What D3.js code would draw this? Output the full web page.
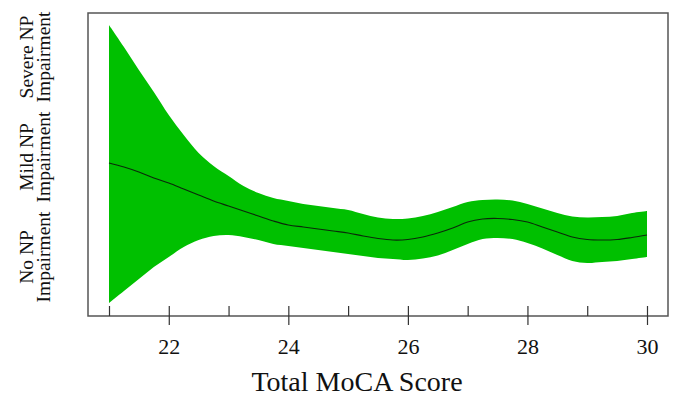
<!DOCTYPE html>
<html>
<head>
<meta charset="utf-8">
<script src="https://cdn.jsdelivr.net/npm/d3@7"></script>
<style>
  body { margin: 0; background: #fff; }
  svg text { font-family: "Liberation Serif", "Times New Roman", serif; fill: #111; }
</style>
</head>
<body>
<div id="chart"></div>
<script>
//---------------- data ----------------
var moca = [21, 21.25, 21.5, 21.75, 22, 22.25, 22.5, 22.75, 23, 23.25, 23.5, 23.75,
  24, 24.25, 24.5, 24.75, 25, 25.25, 25.5, 25.75, 26, 26.25, 26.5, 26.75,
  27, 27.25, 27.5, 27.75, 28, 28.25, 28.5, 28.75, 29, 29.25, 29.5, 29.75, 30];
var fitMean = [1.94, 1.90, 1.85, 1.79, 1.74, 1.68, 1.62, 1.56, 1.51, 1.46, 1.41, 1.36,
  1.32, 1.30, 1.28, 1.26, 1.24, 1.21, 1.185, 1.17, 1.175, 1.20, 1.24, 1.29,
  1.35, 1.38, 1.385, 1.375, 1.35, 1.30, 1.25, 1.20, 1.175, 1.17, 1.175, 1.195, 1.22];
var fitUpper = [3.32, 3.10, 2.87, 2.65, 2.42, 2.22, 2.04, 1.91, 1.81, 1.71, 1.64, 1.59,
  1.56, 1.53, 1.51, 1.49, 1.47, 1.43, 1.395, 1.38, 1.385, 1.41, 1.45, 1.50,
  1.55, 1.57, 1.575, 1.565, 1.53, 1.485, 1.44, 1.405, 1.395, 1.40, 1.41, 1.44, 1.46];
var fitLower = [0.54, 0.66, 0.78, 0.90, 1.00, 1.10, 1.17, 1.21, 1.22, 1.20, 1.17, 1.13,
  1.11, 1.09, 1.07, 1.05, 1.03, 1.01, 0.99, 0.98, 0.97, 0.985, 1.015, 1.07,
  1.13, 1.18, 1.19, 1.18, 1.14, 1.085, 1.02, 0.96, 0.94, 0.95, 0.96, 0.98, 1.00];

var levelValues = [1, 2, 3];
var levelLines = [["No NP", "Impairment"], ["Mild NP", "Impairment"], ["Severe NP", "Impairment"]];
var allTicks = [21, 22, 23, 24, 25, 26, 27, 28, 29, 30];
var labelTicks = [22, 24, 26, 28, 30];

//---------------- layout ----------------
var W = 678, H = 397;
var box = { left: 88, right: 668, top: 13, bottom: 316 };

var svg = d3.select("#chart").append("svg")
  .attr("width", W).attr("height", H);

var x = d3.scaleLinear().domain([21, 30]).range([109, 647]);
// 1 unit = 100px, level 1 centred at y=257
var y = d3.scaleLinear().domain([1, 3]).range([257, 57]);

var rows = moca.map(function(m, i) {
  return { m: m, mean: fitMean[i], hi: fitUpper[i], lo: fitLower[i] };
});

// confidence band
var band = d3.area()
  .x(function(d) { return x(d.m); })
  .y0(function(d) { return y(d.lo); })
  .y1(function(d) { return y(d.hi); })
  .curve(d3.curveCatmullRom);

svg.append("path")
  .datum(rows)
  .attr("d", band)
  .attr("fill", "#00c000");

// fitted line
var fit = d3.line()
  .x(function(d) { return x(d.m); })
  .y(function(d) { return y(d.mean); })
  .curve(d3.curveCatmullRom);

svg.append("path")
  .datum(rows)
  .attr("d", fit)
  .attr("fill", "none")
  .attr("stroke", "#0a2a0a")
  .attr("stroke-width", 1.2);

// box
svg.append("rect")
  .attr("x", box.left).attr("y", box.top)
  .attr("width", box.right - box.left).attr("height", box.bottom - box.top)
  .attr("fill", "none")
  .attr("stroke", "#555")
  .attr("stroke-width", 1.5);

//---------------- x axis ----------------
// inward ticks at every integer
var inner = svg.append("g")
  .attr("transform", "translate(0," + box.bottom + ")")
  .call(d3.axisBottom(x).tickValues(allTicks).tickSizeInner(-10).tickSizeOuter(0).tickFormat(""));
inner.select(".domain").remove();

// outward ticks + labels at even scores
var outer = svg.append("g")
  .attr("transform", "translate(0," + box.bottom + ")")
  .call(d3.axisBottom(x).tickValues(labelTicks).tickSize(9).tickPadding(13).tickFormat(d3.format("d")));
outer.select(".domain").remove();
outer.selectAll("text").attr("font-size", 22).attr("font-family", null);

svg.selectAll(".tick line").attr("stroke", "#333").attr("stroke-width", 1.2);

svg.append("text")
  .attr("x", 357).attr("y", 391)
  .attr("text-anchor", "middle")
  .attr("font-size", 28)
  .text("Total MoCA Score");

//---------------- y labels ----------------
levelValues.forEach(function(v, i) {
  var t = svg.append("text")
    .attr("transform", "translate(33," + y(v) + ") rotate(-90)")
    .attr("text-anchor", "middle")
    .attr("font-size", 19.5);
  levelLines[i].forEach(function(s, k) {
    t.append("tspan").attr("x", 0).attr("dy", k === 0 ? 0 : 16.5).text(s);
  });
});
</script>
</body>
</html>
